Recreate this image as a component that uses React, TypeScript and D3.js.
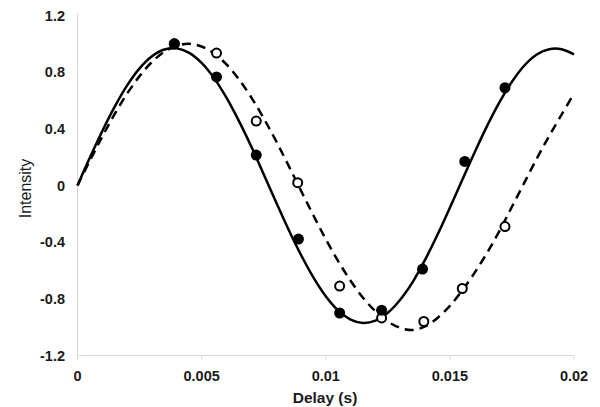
import React, { useEffect, useRef } from 'react';
import * as d3 from 'd3';

// delay (s) for the curve samples
const curveDelay = [
  0, 0.0005, 0.001, 0.0015, 0.002, 0.0025, 0.003, 0.0035, 0.004, 0.0045,
  0.005, 0.0055, 0.006, 0.0065, 0.007, 0.0075, 0.008, 0.0085, 0.009, 0.0095,
  0.01, 0.0105, 0.011, 0.0115, 0.012, 0.0125, 0.013, 0.0135, 0.014, 0.0145,
  0.015, 0.0155, 0.016, 0.0165, 0.017, 0.0175, 0.018, 0.0185, 0.019, 0.0195, 0.02,
];

// solid fit
const solidFit = [
  0, 0.197, 0.385, 0.557, 0.707, 0.827, 0.912, 0.96, 0.968, 0.936,
  0.865, 0.758, 0.62, 0.456, 0.275, 0.079, -0.118, -0.311, -0.489, -0.648,
  -0.781, -0.882, -0.946, -0.97, -0.954, -0.898, -0.806, -0.682, -0.525, -0.348,
  -0.157, 0.04, 0.235, 0.421, 0.589, 0.732, 0.847, 0.925, 0.962, 0.962, 0.925,
];

// dashed fit
const dashedFit = [
  0, 0.176, 0.346, 0.505, 0.649, 0.772, 0.872, 0.944, 0.987, 1.0,
  0.981, 0.932, 0.855, 0.75, 0.622, 0.475, 0.314, 0.141, -0.035, -0.21,
  -0.379, -0.534, -0.672, -0.792, -0.887, -0.96, -1.005, -1.02, -0.995, -0.935,
  -0.85, -0.74, -0.615, -0.475, -0.32, -0.15, 0.02, 0.19, 0.35, 0.5, 0.65,
];

// measured points
const filledX = [0.0039, 0.0056, 0.0072, 0.0089, 0.01056, 0.01225, 0.0139, 0.0156, 0.01722];
const filledY = [1.0, 0.766, 0.215, -0.378, -0.9, -0.88, -0.59, 0.17, 0.69];

const openX = [0.0039, 0.0056, 0.0072, 0.00887, 0.01056, 0.01225, 0.01395, 0.0155, 0.01722];
const openY = [1.0, 0.935, 0.455, 0.02, -0.71, -0.935, -0.96, -0.727, -0.29];

const xTicks = [0, 0.005, 0.01, 0.015, 0.02];
const yTicks = [-1.2, -0.8, -0.4, 0, 0.4, 0.8, 1.2];

const App = () => {
  const ref = useRef<SVGSVGElement>(null);

  useEffect(() => {
    const svg = d3.select(ref.current);
    svg.selectAll('*').remove();

    const width = 600;
    const height = 407;
    const marginLeft = 77.5;
    const marginRight = 26;
    const marginTop = 15.5;
    const plotBottom = 355.5;

    const x = d3.scaleLinear().domain([0, 0.02]).range([marginLeft, width - marginRight]);
    const y = d3.scaleLinear().domain([-1.2, 1.2]).range([plotBottom, marginTop]);

    svg.append('rect').attr('width', width).attr('height', height).attr('fill', 'white');

    const font = 'Liberation Sans, Arial, sans-serif';

    // axes lines
    svg.append('line')
      .attr('x1', x(0)).attr('x2', x(0))
      .attr('y1', y(1.2) - 2).attr('y2', y(-1.2))
      .attr('stroke', '#d9d9d9').attr('stroke-width', 1);
    svg.append('line')
      .attr('x1', x(0)).attr('x2', x(0.02))
      .attr('y1', y(-1.2)).attr('y2', y(-1.2))
      .attr('stroke', '#d9d9d9').attr('stroke-width', 1);

    svg.append('g')
      .selectAll('line')
      .data(xTicks)
      .join('line')
      .attr('x1', d => x(d)).attr('x2', d => x(d))
      .attr('y1', y(-1.2)).attr('y2', y(-1.2) + 4)
      .attr('stroke', '#d9d9d9');

    // tick labels
    svg.append('g')
      .selectAll('text')
      .data(xTicks)
      .join('text')
      .attr('x', d => x(d))
      .attr('y', 381)
      .attr('text-anchor', 'middle')
      .attr('font-family', font)
      .attr('font-size', 14.5)
      .attr('font-weight', 'bold')
      .attr('fill', '#1a1a1a')
      .text(d => (d === 0 ? '0' : String(d)));

    svg.append('g')
      .selectAll('text')
      .data(yTicks)
      .join('text')
      .attr('x', 65)
      .attr('y', d => y(d) + 5)
      .attr('text-anchor', 'end')
      .attr('font-family', font)
      .attr('font-size', 14.5)
      .attr('font-weight', 'bold')
      .attr('fill', '#1a1a1a')
      .text(d => (d === 0 ? '0' : d.toFixed(1)));

    // axis titles
    svg.append('text')
      .attr('x', 325)
      .attr('y', 403)
      .attr('text-anchor', 'middle')
      .attr('font-family', font)
      .attr('font-size', 15.5)
      .attr('font-weight', 'bold')
      .attr('fill', '#1a1a1a')
      .text('Delay (s)');

    svg.append('text')
      .attr('transform', `translate(31,188.5) rotate(-90)`)
      .attr('text-anchor', 'middle')
      .attr('font-family', font)
      .attr('font-size', 16)
      .attr('fill', '#1a1a1a')
      .text('Intensity');

    // fitted curves
    const line = d3.line<number>()
      .x((d, i) => x(curveDelay[i]))
      .y(d => y(d))
      .curve(d3.curveCatmullRom);

    svg.append('path')
      .datum(dashedFit)
      .attr('d', line)
      .attr('fill', 'none')
      .attr('stroke', 'black')
      .attr('stroke-width', 2.5)
      .attr('stroke-dasharray', '9,6');

    svg.append('path')
      .datum(solidFit)
      .attr('d', line)
      .attr('fill', 'none')
      .attr('stroke', 'black')
      .attr('stroke-width', 2.5);

    // markers
    svg.append('g')
      .selectAll('circle')
      .data(openX)
      .join('circle')
      .attr('cx', d => x(d))
      .attr('cy', (d, i) => y(openY[i]))
      .attr('r', 4.5)
      .attr('fill', 'white')
      .attr('stroke', 'black')
      .attr('stroke-width', 2);

    svg.append('g')
      .selectAll('circle')
      .data(filledX)
      .join('circle')
      .attr('cx', d => x(d))
      .attr('cy', (d, i) => y(filledY[i]))
      .attr('r', 5.5)
      .attr('fill', 'black');
  }, []);

  return (
    <svg
      ref={ref}
      width={600}
      height={407}
      style={{ position: 'absolute', left: 0, top: 0, display: 'block' }}
    />
  );
};

export default App;
